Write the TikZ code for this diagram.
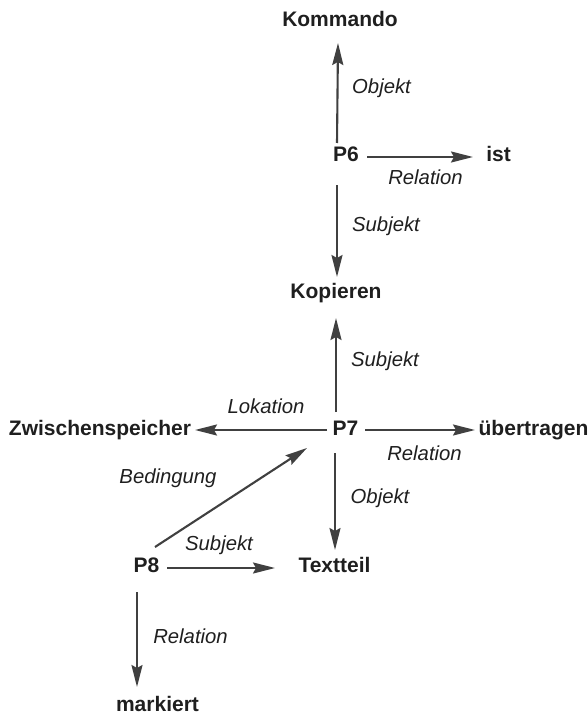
\documentclass[tikz,border=0pt]{standalone}
\usepackage{fontspec}
\setmainfont{Liberation Sans}
\usetikzlibrary{arrows.meta}
\definecolor{ink}{gray}{0.12}
\definecolor{arrowink}{gray}{0.25}
\begin{document}
\begin{tikzpicture}[x=1pt,y=-1pt,
  term/.style={inner sep=0pt,anchor=base,text=ink,font=\fontsize{21}{25}\selectfont\bfseries},
  lab/.style={inner sep=0pt,anchor=base,text=ink,font=\fontsize{20.3}{24}\selectfont\itshape},
  arr/.style={draw=arrowink,line width=2.1pt,-{Stealth[length=22pt,width=11pt,inset=3pt]}}]
\useasboundingbox (0,0) rectangle (587,714);
% terms
\node[term] (kommando) at (340,27) {Kommando};
\node[term] (p6) at (346,161) {P6};
\node[term] (ist) at (498.5,162) {ist};
\node[term] (kopieren) at (336,298) {Kopieren};
\node[term] (p7) at (345.5,435) {P7};
\node[term] (zw) at (100,435) {Zwischenspeicher};
\node[term] (ueb) at (533.5,435) {übertragen};
\node[term] (textteil) at (334.5,572) {Textteil};
\node[term] (p8) at (146.5,572) {P8};
\node[term] (markiert) at (157.5,711) {markiert};
% labels
\node[lab] (l1) at (381.5,94) {Objekt};
\node[lab] (l2) at (425.5,185) {Relation};
\node[lab] (l3) at (386,231) {Subjekt};
\node[lab] (l4) at (385,366) {Subjekt};
\node[lab] (l5) at (266,413) {Lokation};
\node[lab] (l6) at (424.5,460) {Relation};
\node[lab] (l7) at (168,483) {Bedingung};
\node[lab] (l8) at (380,503) {Objekt};
\node[lab] (l9) at (219,550) {Subjekt};
\node[lab] (l10) at (190.5,643) {Relation};
% connectors
\draw[arr] ([xshift=-9pt,yshift=18pt]p6.base) -- ([xshift=-2pt,yshift=-16pt]kommando.base);
\draw[arr] ([xshift=21pt,yshift=4pt]p6.base) -- ([xshift=-25.5pt,yshift=5pt]ist.base);
\draw[arr] ([xshift=-9pt,yshift=-24pt]p6.base) -- ([xshift=1pt,yshift=21pt]kopieren.base);
\draw[arr] ([xshift=-9.5pt,yshift=23pt]p7.base) -- ([xshift=0pt,yshift=-20pt]kopieren.base);
\draw[arr] ([xshift=-18.5pt,yshift=5pt]p7.base) -- ([xshift=95pt,yshift=5pt]zw.base);
\draw[arr] ([xshift=19.5pt,yshift=5pt]p7.base) -- ([xshift=-58.5pt,yshift=5pt]ueb.base);
\draw[arr] ([xshift=-10.5pt,yshift=-18pt]p7.base) -- ([xshift=0.5pt,yshift=22pt]textteil.base);
\draw[arr] ([xshift=8.5pt,yshift=25pt]p8.base) -- ([xshift=-38.5pt,yshift=-13pt]p7.base);
\draw[arr] ([xshift=20.5pt,yshift=4pt]p8.base) -- ([xshift=-59.5pt,yshift=4pt]textteil.base);
\draw[arr] ([xshift=-9.5pt,yshift=-20pt]p8.base) -- ([xshift=-20.5pt,yshift=24pt]markiert.base);
\end{tikzpicture}
\end{document}
